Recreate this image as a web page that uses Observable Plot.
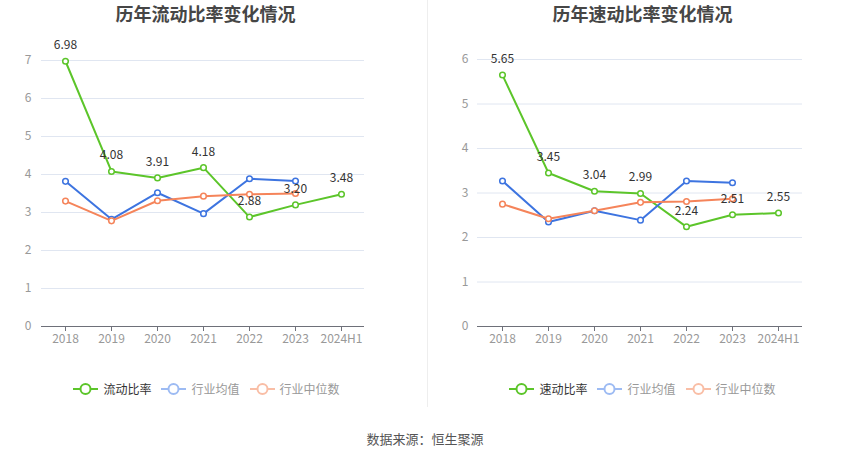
<!DOCTYPE html>
<html>
<head>
<meta charset="utf-8">
<script src="https://cdn.jsdelivr.net/npm/d3@7"></script>
<script src="https://cdn.jsdelivr.net/npm/@observablehq/plot@0.6"></script>
<style>
  html, body { margin: 0; padding: 0; background: #fff; }
  #root { position: relative; width: 850px; height: 459px; background: #fff; font-family: "Noto Sans CJK SC", "Noto Sans", sans-serif; overflow: hidden; }
  .title { position: absolute; top: 1px; width: 425px; text-align: center; font-size: 18px; line-height: 24px; font-weight: bold; color: #464646; }
  .chart { position: absolute; top: 0; }
  .divider { position: absolute; left: 427px; top: 0; width: 1px; height: 407px; background: #eeeeee; }
  .legend { position: absolute; top: 380px; width: 425px; display: flex; justify-content: center; font-size: 12px; }
  .legend .item { display: flex; align-items: center; margin: 0 5px; }
  .legend svg { margin-right: 5px; }
  .caption { position: absolute; top: 429px; left: 0; width: 850px; text-align: center; font-size: 13px; color: #555; }
</style>
</head>
<body>
<div id="root"></div>
<script>
const years = ["2018", "2019", "2020", "2021", "2022", "2023", "2024H1"];
const industryYears = ["2018", "2019", "2020", "2021", "2022", "2023"];

const currentRatio = [6.98, 4.08, 3.91, 4.18, 2.88, 3.20, 3.48];
const currentIndustryAvg = [3.82, 2.82, 3.52, 2.97, 3.89, 3.83];
const currentIndustryMedian = [3.30, 2.78, 3.31, 3.43, 3.48, 3.50];

const quickRatio = [5.65, 3.45, 3.04, 2.99, 2.24, 2.51, 2.55];
const quickIndustryAvg = [3.27, 2.35, 2.60, 2.39, 3.27, 3.23];
const quickIndustryMedian = [2.75, 2.42, 2.60, 2.79, 2.81, 2.87];

const titles = ["历年流动比率变化情况", "历年速动比率变化情况"];
const legendNames = [["流动比率", "行业均值", "行业中位数"], ["速动比率", "行业均值", "行业中位数"]];
const caption = "数据来源：恒生聚源";

const GREEN = "#5cc52a", BLUE = "#3d74e0", ORANGE = "#f5845a";
const LEGEND_COLORS = [GREEN, "#9dbbf3", "#f9bea6"];
const LEGEND_TEXT = ["#333", "#999", "#999"];

const root = document.getElementById("root");

function toRows(xs, vs) { return vs.map((v, i) => ({x: xs[i], v})); }

function makeChart(main, avg, med, yMax, opts) {
  const mainRows = toRows(years, main);
  const avgRows = toRows(industryYears, avg);
  const medRows = toRows(industryYears, med);
  const marks = [];
  const series = [[mainRows, GREEN], [avgRows, BLUE], [medRows, ORANGE]];
  marks.push(Plot.gridY(d3.range(1, yMax + 1), {stroke: "#e0e6f1", strokeOpacity: 1}));
  marks.push(Plot.axisY(d3.range(0, yMax + 1), {tickSize: 0, tickPadding: opts.tickPad, fill: "#999", fontSize: 12, label: null}));
  marks.push(Plot.ruleY([0], {stroke: "#6e7079", strokeWidth: 1}));
  marks.push(Plot.axisX({tickSize: 5, stroke: "#6e7079", tickPadding: 3, fill: "#999", fontSize: 12, label: null}));
  for (const [rows, c] of series) {
    marks.push(Plot.line(rows, {x: "x", y: "v", stroke: c, strokeWidth: 2}));
    marks.push(Plot.dot(rows, {x: "x", y: "v", r: 2.8, fill: "#fff", stroke: c, strokeWidth: 1.5}));
  }
  marks.push(Plot.text(mainRows, {x: "x", y: "v", text: d => d.v.toFixed(2), dy: -16, fill: "#333", fontSize: 12}));
  return Plot.plot({
    width: 425,
    height: 360,
    marginLeft: opts.ml,
    marginRight: opts.mr,
    marginTop: opts.mt,
    marginBottom: 34,
    style: {fontFamily: '"Noto Sans CJK SC", "Noto Sans", sans-serif', background: "transparent", overflow: "visible"},
    x: {type: "point", domain: years, padding: 0.5},
    y: {domain: [0, yMax]},
    marks
  });
}

const charts = [
  makeChart(currentRatio, currentIndustryAvg, currentIndustryMedian, 7, {ml: 41, mr: 61, mt: 60, tickPad: 10}),
  makeChart(quickRatio, quickIndustryAvg, quickIndustryMedian, 6, {ml: 52, mr: 48, mt: 59, tickPad: 9})
];

charts.forEach((svg, i) => {
  const wrap = document.createElement("div");
  wrap.className = "chart";
  wrap.style.left = (i * 425) + "px";
  wrap.appendChild(svg);
  root.appendChild(wrap);

  const t = document.createElement("div");
  t.className = "title";
  t.style.left = (i === 0 ? -7 : 430) + "px";
  t.textContent = titles[i];
  root.appendChild(t);

  const lg = document.createElement("div");
  lg.className = "legend";
  lg.style.left = (i === 0 ? -6 : 430) + "px";
  legendNames[i].forEach((name, k) => {
    const item = document.createElement("div");
    item.className = "item";
    item.innerHTML = `<svg width="25" height="14"><line x1="0" y1="7" x2="25" y2="7" stroke="${LEGEND_COLORS[k]}" stroke-width="2"/><circle cx="12.5" cy="7" r="5" fill="#fff" stroke="${LEGEND_COLORS[k]}" stroke-width="2"/></svg><span style="color:${LEGEND_TEXT[k]}">${name}</span>`;
    lg.appendChild(item);
  });
  root.appendChild(lg);
});

const div = document.createElement("div");
div.className = "divider";
root.appendChild(div);

const cap = document.createElement("div");
cap.className = "caption";
cap.textContent = caption;
root.appendChild(cap);
</script>
</body>
</html>
